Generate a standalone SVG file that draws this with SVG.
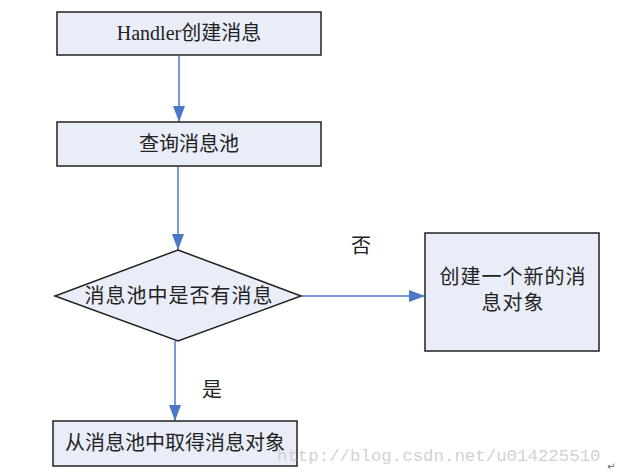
<svg xmlns="http://www.w3.org/2000/svg" width="627" height="476" viewBox="0 0 627 476">
<style>
.n{fill:#e9edf7;stroke:#222;stroke-width:1.5}
.t{font-family:"Liberation Serif","Noto Sans CJK SC",serif;font-size:20px;fill:#222;text-anchor:middle}
.c{stroke:#4a78c8;stroke-width:1.5;fill:none}
</style>
<defs>
<marker id="b" viewBox="0 0 10 10" refX="10" refY="5" markerWidth="16" markerHeight="12" markerUnits="userSpaceOnUse" orient="auto" preserveAspectRatio="none"><path d="M0,0L10,5L0,10z" fill="#4a78c8"/></marker>
</defs>
<rect width="627" height="476" fill="#fff"/>
<g id="connectors">
<line class="c" x1="179" y1="56" x2="179" y2="122" marker-end="url(#b)"/>
<line class="c" x1="178" y1="167" x2="178" y2="250" marker-end="url(#b)"/>
<line class="c" x1="302" y1="296" x2="425" y2="296" marker-end="url(#b)"/>
<line class="c" x1="175" y1="341" x2="175" y2="421" marker-end="url(#b)"/>
<text class="t" x="361" y="253">否</text>
<text class="t" x="212" y="397">是</text>
</g>
<g id="n1"><rect class="n" x="57" y="12" width="264" height="43"/><text class="t" x="189" y="40">Handler创建消息</text></g>
<g id="n2"><rect class="n" x="57" y="122" width="264" height="44"/><text class="t" x="189" y="151">查询消息池</text></g>
<g id="n3"><polygon class="n" points="178,250 301,296 178,341 55,296"/><text class="t" x="179" y="303" letter-spacing="1">消息池中是否有消息</text></g>
<g id="n4"><rect class="n" x="425" y="233" width="174" height="118"/><text class="t" x="513" y="284" letter-spacing="1">创建一个新的消</text><text class="t" x="513" y="310" letter-spacing="1">息对象</text></g>
<g id="n5"><rect class="n" x="53" y="421" width="244" height="45"/><text class="t" x="175" y="450">从消息池中取得消息对象</text></g>
<text x="277" y="461" font-family="Liberation Mono,monospace" font-size="17.4" fill="#d2d2d2">http://blog.csdn.net/u014225510</text>
<text x="607" y="470" font-family="DejaVu Sans,sans-serif" font-size="10" fill="#666">↵</text>
</svg>
